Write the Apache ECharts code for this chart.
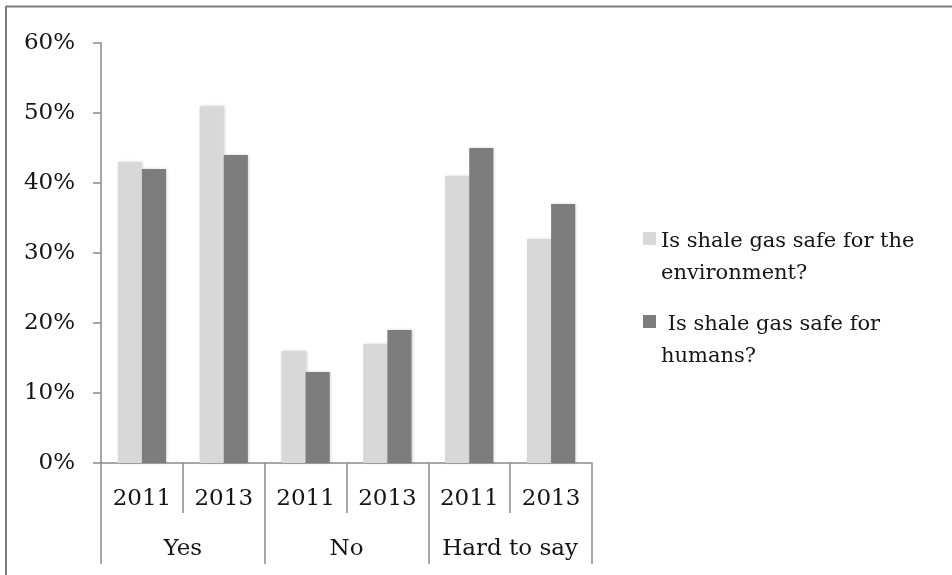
<!DOCTYPE html>
<html>
<head>
<meta charset="utf-8">
<script src="https://cdn.jsdelivr.net/npm/echarts@6/dist/echarts.min.js"></script>
<style>
  html, body { margin: 0; padding: 0; background: #fff; }
  #chart { width: 952px; height: 575px; }
</style>
</head>
<body>
<div id="chart"></div>
<script>
// Survey answers, two waves per answer group
const years = ['2011', '2013', '2011', '2013', '2011', '2013'];
const answers = ['Yes', 'No', 'Hard to say'];
const seriesNames = ['Is shale gas safe for the environment?', 'Is shale gas safe for humans?'];
const legendLines = ['Is shale gas safe for the\nenvironment?', ' Is shale gas safe for\nhumans?'];
const environmentSafe = [43, 51, 16, 17, 41, 32];
const humansSafe = [42, 44, 13, 19, 45, 37];
const yTicks = { min: 0, max: 60, step: 10 };

const FONT = 'DejaVu Serif';
const AXIS_GREY = '#8a8a8a';
const TEXT = '#151515';

const chart = echarts.init(document.getElementById('chart'), null, { renderer: 'canvas' });

// legend icon: square at the top of a taller box so it lines up with the first text line
const legendIcon = 'path://M0,0h13v13h-13zM13,52h0';

const barStyle = (color) => ({
  color: color,
  shadowBlur: 3,
  shadowOffsetX: 1,
  shadowOffsetY: 0,
  shadowColor: 'rgba(0,0,0,0.18)'
});

chart.setOption({
  animation: false,
  backgroundColor: '#ffffff',
  graphic: [
    { type: 'line', shape: { x1: 6, y1: 6.5, x2: 952, y2: 6.5 }, style: { stroke: '#7c7c7c', lineWidth: 2 } },
    { type: 'line', shape: { x1: 6, y1: 6, x2: 6, y2: 575 }, style: { stroke: '#7c7c7c', lineWidth: 2 } }
  ],
  grid: { left: 101, top: 43, right: 360, bottom: 112, containLabel: false },
  legend: {
    orient: 'vertical',
    left: 638,
    top: 221,
    itemWidth: 13,
    itemHeight: 52,
    itemGap: 19,
    icon: legendIcon,
    selectedMode: false,
    data: seriesNames,
    formatter: (name) => legendLines[seriesNames.indexOf(name)],
    textStyle: { fontFamily: FONT, fontSize: 21, lineHeight: 32, color: TEXT }
  },
  xAxis: [
    {
      type: 'category',
      data: years,
      position: 'bottom',
      axisLine: { show: true, lineStyle: { color: AXIS_GREY, width: 1.5 } },
      axisTick: { show: true, length: 50, interval: 0, alignWithLabel: false, lineStyle: { color: AXIS_GREY, width: 1.5 } },
      axisLabel: { interval: 0, margin: 25, fontFamily: FONT, fontSize: 23, color: TEXT }
    },
    {
      type: 'category',
      data: answers,
      position: 'bottom',
      axisLine: { show: false },
      axisTick: { show: true, length: 101, interval: 0, alignWithLabel: false, lineStyle: { color: AXIS_GREY, width: 1.5 } },
      axisLabel: { interval: 0, margin: 75, fontFamily: FONT, fontSize: 23, color: TEXT }
    }
  ],
  yAxis: {
    type: 'value',
    min: yTicks.min,
    max: yTicks.max,
    interval: yTicks.step,
    axisLine: { show: true, lineStyle: { color: AXIS_GREY, width: 1.5 } },
    axisTick: { show: true, length: 8, lineStyle: { color: AXIS_GREY, width: 1.5 } },
    splitLine: { show: false },
    axisLabel: { margin: 26, fontFamily: FONT, fontSize: 23, color: TEXT, formatter: '{value}%' }
  },
  series: [
    {
      name: seriesNames[0],
      type: 'bar',
      xAxisIndex: 0,
      data: environmentSafe,
      barGap: '0%',
      barCategoryGap: '41%',
      itemStyle: barStyle('#d8d8d8')
    },
    {
      name: seriesNames[1],
      type: 'bar',
      xAxisIndex: 0,
      data: humansSafe,
      barGap: '0%',
      barCategoryGap: '41%',
      itemStyle: barStyle('#7d7d7d')
    }
  ]
});
</script>
</body>
</html>
